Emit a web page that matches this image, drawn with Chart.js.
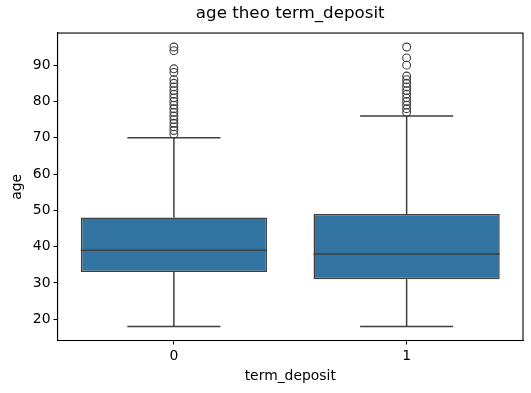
<!DOCTYPE html>
<html>
<head>
<meta charset="utf-8">
<script src="https://cdn.jsdelivr.net/npm/chart.js@4/dist/chart.umd.min.js"></script>
<style>
html,body{margin:0;padding:0;background:#fff;}
#wrap{width:531px;height:393px;position:relative;}
</style>
</head>
<body>
<div id="wrap"><canvas id="c" width="531" height="393"></canvas></div>
<script>
const categories = ['0', '1'];
const q1 = [33, 31];
const median = [39, 38];
const q3 = [48, 49];
const whiskerLow = [18, 18];
const whiskerHigh = [70, 76];
const outliers0 = [71, 72, 73, 74, 75, 76, 77, 78, 79, 80, 81, 82, 83, 84, 85, 86, 88, 89, 94, 95];
const outliers1 = [77, 78, 79, 80, 81, 82, 83, 84, 85, 86, 87, 90, 92, 95];
const yTicks = [20, 30, 40, 50, 60, 70, 80, 90];

const FONT = "'DejaVu Sans', sans-serif";
const LINE = '#3f3f3f';
const BOX = '#3274a1';

const outlierPoints = [];
[outliers0, outliers1].forEach((arr, i) => arr.forEach(v => outlierPoints.push({x: categories[i], y: v})));

const boxPlugin = {
  id: 'boxParts',
  afterDatasetsDraw(chart) {
    const ctx = chart.ctx;
    const xs = chart.scales.x, ys = chart.scales.y;
    const meta = chart.getDatasetMeta(0);
    ctx.save();
    ctx.strokeStyle = LINE;
    ctx.lineWidth = 1.5;
    categories.forEach((c, i) => {
      const bar = meta.data[i];
      const cx = xs.getPixelForValue(i);
      const half = bar.width / 2;
      const capHalf = half / 2;
      const yQ1 = ys.getPixelForValue(q1[i]);
      const yQ3 = ys.getPixelForValue(q3[i]);
      const yLo = ys.getPixelForValue(whiskerLow[i]);
      const yHi = ys.getPixelForValue(whiskerHigh[i]);
      const yMed = ys.getPixelForValue(median[i]);
      ctx.beginPath();
      ctx.moveTo(cx, yQ1); ctx.lineTo(cx, yLo);
      ctx.moveTo(cx, yQ3); ctx.lineTo(cx, yHi);
      ctx.moveTo(cx - capHalf, yLo); ctx.lineTo(cx + capHalf, yLo);
      ctx.moveTo(cx - capHalf, yHi); ctx.lineTo(cx + capHalf, yHi);
      ctx.moveTo(cx - half, yMed); ctx.lineTo(cx + half, yMed);
      ctx.stroke();
    });
    ctx.restore();
  },
  afterDraw(chart) {
    const a = chart.chartArea;
    const ctx = chart.ctx;
    ctx.save();
    ctx.strokeStyle = '#000';
    ctx.lineWidth = 1.1;
    ctx.strokeRect(a.left, a.top, a.right - a.left, a.bottom - a.top);
    ctx.restore();
  }
};

new Chart(document.getElementById('c'), {
  data: {
    labels: categories,
    datasets: [
      {
        type: 'bar',
        data: categories.map((c, i) => [q1[i], q3[i]]),
        backgroundColor: BOX,
        borderColor: LINE,
        borderWidth: 1.5,
        borderSkipped: false,
        barPercentage: 0.8,
        categoryPercentage: 1.0,
        order: 2
      },
      {
        type: 'line',
        data: outlierPoints,
        showLine: false,
        pointStyle: 'circle',
        pointRadius: 3.9,
        pointBackgroundColor: 'rgba(0,0,0,0)',
        pointBorderColor: LINE,
        pointBorderWidth: 1.1,
        order: 1
      }
    ]
  },
  options: {
    responsive: false,
    animation: false,
    events: [],
    layout: {padding: {left: 0, right: 8, top: 0, bottom: 0}},
    plugins: {
      legend: {display: false},
      tooltip: {enabled: false},
      title: {
        display: true,
        text: 'age theo term_deposit',
        fullSize: false,
        color: '#000',
        font: {family: FONT, size: 16.7, weight: 'normal'},
        padding: {top: 4, bottom: 9}
      }
    },
    scales: {
      x: {
        type: 'category',
        offset: true,
        grid: {display: true, drawOnChartArea: false, drawTicks: true, tickLength: 4, color: '#000', offset: false},
        border: {display: true, color: '#000', width: 1.1},
        ticks: {color: '#000', font: {family: FONT, size: 13.9}, padding: 4},
        title: {display: true, text: 'term_deposit', color: '#000', font: {family: FONT, size: 13.9}, padding: {top: 8.7, bottom: 8.7}},
        afterFit(scale) { scale.height = 52.5; }
      },
      y: {
        type: 'linear',
        min: 14.15,
        max: 98.85,
        afterBuildTicks(scale) { scale.ticks = yTicks.map(v => ({value: v})); },
        grid: {display: true, drawOnChartArea: false, drawTicks: true, tickLength: 4, color: '#000'},
        border: {display: true, color: '#000', width: 1.1},
        ticks: {color: '#000', font: {family: FONT, size: 13.9}, padding: 3},
        title: {display: true, text: 'age', color: '#000', font: {family: FONT, size: 13.9}, padding: {top: 8.7, bottom: 8.7}},
        afterFit(scale) { scale.width = 57.5; }
      }
    }
  },
  plugins: [boxPlugin]
});
</script>
</body>
</html>
